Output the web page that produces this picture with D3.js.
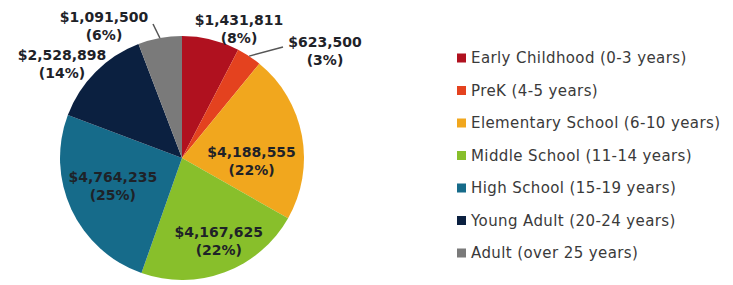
<!DOCTYPE html>
<html>
<head>
<meta charset="utf-8">
<script src="https://cdn.jsdelivr.net/npm/d3@7"></script>
<style>
  body { margin: 0; background: #fff; }
  #chart { width: 733px; height: 285px; }
  text { font-family: "DejaVu Sans", Verdana, sans-serif; }
</style>
</head>
<body>
<div id="chart"></div>
<script>
// data
const categories = ["Early Childhood (0-3 years)", "PreK (4-5 years)", "Elementary School (6-10 years)",
    "Middle School (11-14 years)", "High School (15-19 years)", "Young Adult (20-24 years)", "Adult (over 25 years)"];
const amounts = [1431811, 623500, 4188555, 4167625, 4764235, 2528898, 1091500];
const percents = [8, 3, 22, 22, 25, 14, 6];
const colors = ["#b0111f", "#e4421f", "#f1a71e", "#88bf2b", "#166b8a", "#0b2040", "#7a7a7a"];

const w = 733, h = 285;
const cx = 182, cy = 158, r = 122;

const svg = d3.select("#chart").append("svg")
    .attr("width", w)
    .attr("height", h);

const pie = d3.pie().sort(null).value(d => d);
const arcs = pie(amounts);
const arc = d3.arc().innerRadius(0).outerRadius(r);

const g = svg.append("g").attr("transform", "translate(" + cx + "," + cy + ")");

g.selectAll("path.slice").data(arcs).enter()
    .append("path")
    .attr("class", "slice")
    .attr("d", arc)
    .attr("fill", (d, i) => colors[i]);

const fmt = d3.format("$,");
const labelArc = d3.arc().innerRadius(r * 0.58).outerRadius(r * 0.58);
const edgeArc = d3.arc().innerRadius(r).outerRadius(r);

// nudges for inside labels, relative to the centroid
const nudge = { 2: [0, 16], 3: [12, 17], 4: [-5, -2] };
// small slices get their label outside the pie
const outerPos = {
    0: [57, -129],
    1: [143, -107],
    5: [-120, -94],
    6: [-78, -132]
};

function labelPos(d, i) {
    if (outerPos[i]) return outerPos[i];
    const c = labelArc.centroid(d);
    const n = nudge[i] || [0, 0];
    return [c[0] + n[0], c[1] + n[1]];
}

const labels = g.selectAll("g.lbl").data(arcs).enter()
    .append("g")
    .attr("class", "lbl")
    .attr("transform", (d, i) => "translate(" + labelPos(d, i) + ")");

labels.append("text")
    .attr("text-anchor", "middle")
    .attr("font-size", 14)
    .attr("font-weight", "bold")
    .attr("fill", "#1e2228")
    .attr("y", -4)
    .text((d, i) => fmt(amounts[i]));
labels.append("text")
    .attr("text-anchor", "middle")
    .attr("font-size", 14)
    .attr("font-weight", "bold")
    .attr("fill", "#1e2228")
    .attr("y", 14)
    .text((d, i) => "(" + percents[i] + "%)");

// leader lines for the two thin slices
const leaderIdx = [1, 6];
const leaderEnd = { 1: [101, -111], 6: [-29, -134] };
g.selectAll("line.leader").data(leaderIdx).enter()
    .append("line")
    .attr("class", "leader")
    .attr("x1", i => edgeArc.centroid(arcs[i])[0])
    .attr("y1", i => edgeArc.centroid(arcs[i])[1])
    .attr("x2", i => leaderEnd[i][0])
    .attr("y2", i => leaderEnd[i][1])
    .attr("stroke", "#555")
    .attr("stroke-width", 1.5);

// legend
const legend = svg.append("g").attr("transform", "translate(457,58)");
const rows = legend.selectAll("g").data(categories).enter()
    .append("g")
    .attr("transform", (d, i) => "translate(0," + (i * 32.5) + ")");
rows.append("rect")
    .attr("x", 0).attr("y", -4.5)
    .attr("width", 9).attr("height", 9)
    .attr("fill", (d, i) => colors[i]);
rows.append("text")
    .attr("x", 14)
    .attr("dy", "0.35em")
    .attr("font-size", 15)
    .attr("letter-spacing", 0.4)
    .attr("fill", "#3a3a3a")
    .text(d => d);
</script>
</body>
</html>
